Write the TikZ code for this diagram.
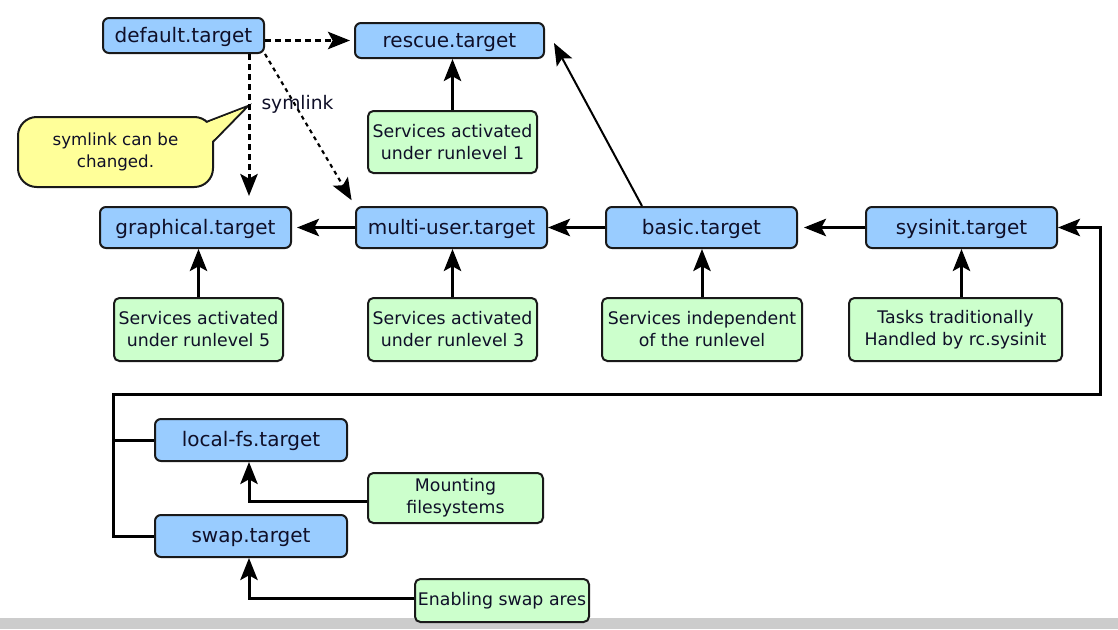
\documentclass[tikz,border=0pt]{standalone}
\usepackage{fontspec}
\setmainfont{DejaVu Sans}
\usetikzlibrary{arrows.meta}
\definecolor{bluebox}{RGB}{153,204,255}
\definecolor{greenbox}{RGB}{204,255,204}
\definecolor{yellowbox}{RGB}{255,255,153}
\definecolor{txt}{RGB}{15,15,40}
\definecolor{edgec}{RGB}{25,25,25}
\definecolor{band}{RGB}{204,204,204}
\begin{document}
\begin{tikzpicture}[x=0.75pt,y=-0.75pt,
  target/.style={draw=edgec, line width=1.5pt, fill=bluebox, rounded corners=4.5pt,
    inner sep=0pt, text=txt, font=\fontsize{15}{18}\selectfont, text height=13.6pt, text depth=3.6pt},
  svc/.style={draw=edgec, line width=1.5pt, fill=greenbox, rounded corners=4pt,
    inner sep=0pt, text=txt, align=center, font=\fontsize{13}{16.5}\selectfont},
  tip/.style={-{Stealth[length=16.5pt 0 0,width=13pt 0 0,inset=3.5pt 0]}},
  conn/.style={tip, line width=2.25pt, draw=black},
  thinconn/.style={tip, line width=1.5pt, draw=black},
  plainline/.style={line width=2.25pt, draw=black},
  dconn/.style={tip, line width=2.25pt, draw=black, dash pattern=on 4.5pt off 3pt},
  ddconn/.style={tip, line width=1.6pt, draw=black, dash pattern=on 3pt off 3pt},
  callout/.style={draw=edgec, line width=1.5pt, fill=yellowbox},
  lbl/.style={text=txt, inner sep=0pt}
]
\path[use as bounding box] (0,0) rectangle (1118,629);
\fill[white] (0,0) rectangle (1118,629);
\fill[band] (0,618) rectangle (1118,629);

% target nodes
\node[target, minimum width={161*0.75pt}, minimum height={35*0.75pt}] (default) at (183.5,35.5) {default.target};
\node[target, minimum width={189*0.75pt}, minimum height={35*0.75pt}] (rescue) at (449.5,40.5) {rescue.target};
\node[target, minimum width={191*0.75pt}, minimum height={41*0.75pt}] (graphical) at (195.5,227.5) {graphical.target};
\node[target, minimum width={191*0.75pt}, minimum height={41*0.75pt}] (multi) at (451.5,227.5) {multi-user.target};
\node[target, minimum width={191*0.75pt}, minimum height={41*0.75pt}] (basic) at (701.5,227.5) {basic.target};
\node[target, minimum width={191*0.75pt}, minimum height={41*0.75pt}] (sysinit) at (961.5,227.5) {sysinit.target};
\node[target, minimum width={192*0.75pt}, minimum height={42*0.75pt}] (localfs) at (251,440) {local-fs.target};
\node[target, minimum width={192*0.75pt}, minimum height={42*0.75pt}] (swap) at (251,536) {swap.target};

% service nodes
\node[svc, minimum width={169*0.75pt}, minimum height={62*0.75pt}] (rl1) at (452.5,142) {Services activated\\under runlevel 1};
\node[svc, minimum width={169*0.75pt}, minimum height={63*0.75pt}] (rl5) at (198.5,329.5) {Services activated\\under runlevel 5};
\node[svc, minimum width={169*0.75pt}, minimum height={63*0.75pt}] (rl3) at (452.5,329.5) {Services activated\\under runlevel 3};
\node[svc, minimum width={200*0.75pt}, minimum height={63*0.75pt}] (indep) at (702,329.5) {Services independent\\of the runlevel};
\node[svc, minimum width={213*0.75pt}, minimum height={63*0.75pt}] (tasks) at (955.5,329.5) {Tasks traditionally\\Handled by rc.sysinit};
\node[svc, minimum width={175*0.75pt}, minimum height={50*0.75pt}] (mount) at (455.5,498) {Mounting\\filesystems};
\node[svc, minimum width={174*0.75pt}, minimum height={43*0.75pt}] (enable) at (502,600.5) {Enabling swap ares};

% callout
\coordinate (ptip) at (248,106);
\filldraw[callout] (ptip) -- (196,126) -- (205,150) -- cycle;
\node[callout, rounded corners=14pt, minimum width={195*0.75pt}, minimum height={70*0.75pt},
  inner sep=0pt, text=txt, align=center, font=\fontsize{12.5}{16.5}\selectfont] (note) at (115.5,152) {symlink can be\\changed.};
\fill[yellowbox] (244,108.5) -- (198.5,126.2) -- (206.3,147) -- cycle;

\node[lbl, font=\fontsize{14}{16}\selectfont] (sym) at (297.5,104) {symlink};

% dashed links from default.target
\draw[dconn, shorten >=3pt] (default.east |- rescue.west) -- (rescue.west);
\draw[dconn, shorten >=7.5pt] ([shift={(65.5,0)}]default.south) -- ([shift={(65.5,0)}]default.south |- graphical.north);
\draw[ddconn, shorten >=5pt] (default.south east) -- (multi.north west);

% horizontal chain
\draw[conn, shorten >=3.75pt] (multi.west) -- (graphical.east);
\draw[conn] (basic.west) -- (multi.east);
\draw[conn, shorten >=4.5pt] (sysinit.west) -- (basic.east);
\draw[thinconn] ([shift={(-59.5,0)}]basic.north) -- ([shift={(9,2.5)}]rescue.east);

% services to targets
\draw[conn] (rl1.north) -- (rl1.north |- rescue.south);
\draw[conn] (rl5.north) -- (rl5.north |- graphical.south);
\draw[conn] (rl3.north) -- (rl3.north |- multi.south);
\draw[conn] (indep.north) -- (indep.north |- basic.south);
\draw[conn] (sysinit.south |- tasks.north) -- (sysinit.south);

% loop back to sysinit
\coordinate (bl) at (113,394);
\coordinate (br) at (1100,394);
\draw[conn] (swap.west) -| (bl) -- (br) |- (sysinit.east);
\draw[plainline] (localfs.west) -- (localfs.west -| bl);
\draw[conn] ([shift={(0,3)}]mount.west) -| ([shift={(-2,0)}]localfs.south);
\draw[conn] ([shift={(0,-2)}]enable.west) -| ([shift={(-2,0)}]swap.south);
\end{tikzpicture}
\end{document}
